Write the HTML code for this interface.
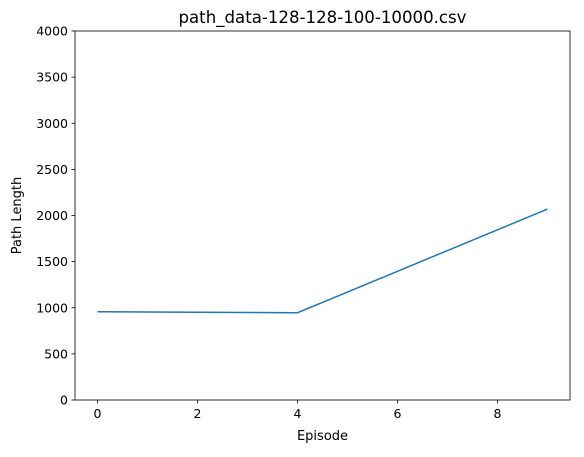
<!DOCTYPE html>
<html><head><meta charset="utf-8"><style>
body{margin:0;background:#fff;font-family:"DejaVu Sans","Liberation Sans",sans-serif;}
</style></head><body>
<svg id="chart" width="584" height="453" xmlns="http://www.w3.org/2000/svg" style="font-family:'DejaVu Sans','Liberation Sans',sans-serif">
</svg>
<script>
const episodes=[0,1,2,3,4,5,6,7,8,9];
const pathLengths=[957,954,951,949,946,1170,1395,1620,1845,2070];
const xTicks=[0,2,4,6,8];
const yTicks=[0,500,1000,1500,2000,2500,3000,3500,4000];
const L=75,R=570,T=31,B=400;
const x=v=>L+(v+0.45)/9.9*(R-L);
const y=v=>B-v/4000*(B-T);
const svg=document.getElementById('chart');
const NS='http://www.w3.org/2000/svg';
function mk(tag,attrs,text){const e=document.createElementNS(NS,tag);for(const k in attrs)e.setAttribute(k,attrs[k]);if(text!==undefined)e.textContent=text;svg.appendChild(e);return e;}
const pts=episodes.map((e,i)=>x(e)+','+y(pathLengths[i])).join(' ');
const line=mk('polyline',{points:pts,fill:'none',stroke:'#1f77b4','stroke-width':1.5});


const frame=mk('rect',{x:L,y:T,width:R-L,height:B-T,fill:'none',stroke:'#000','stroke-width':0.8});


xTicks.forEach(t=>{
 mk('line',{x1:x(t),x2:x(t),y1:B,y2:B+3.5,stroke:'#000','stroke-width':0.8});
 const tx=mk('text',{x:x(t),y:B+18,'text-anchor':'middle','font-size':12.5,fill:'#000'},t);
 
 
});
yTicks.forEach(t=>{
 mk('line',{x1:L-3.5,x2:L,y1:y(t),y2:y(t),stroke:'#000','stroke-width':0.8});
 const tx=mk('text',{x:L-7,y:y(t)+4.5,'text-anchor':'end','font-size':12.5,fill:'#000'},t);
 
 
});
const xt=mk('text',{x:(L+R)/2,y:440,'text-anchor':'middle','font-size':13},'Episode');


const yt=mk('text',{x:21,y:(T+B)/2,'text-anchor':'middle','font-size':13,transform:'rotate(-90 21 '+((T+B)/2)+')'},'Path Length');


const ti=mk('text',{x:(L+R)/2,y:23,'text-anchor':'middle','font-size':16.6},'path_data-128-128-100-10000.csv');


</script>
</body></html>
